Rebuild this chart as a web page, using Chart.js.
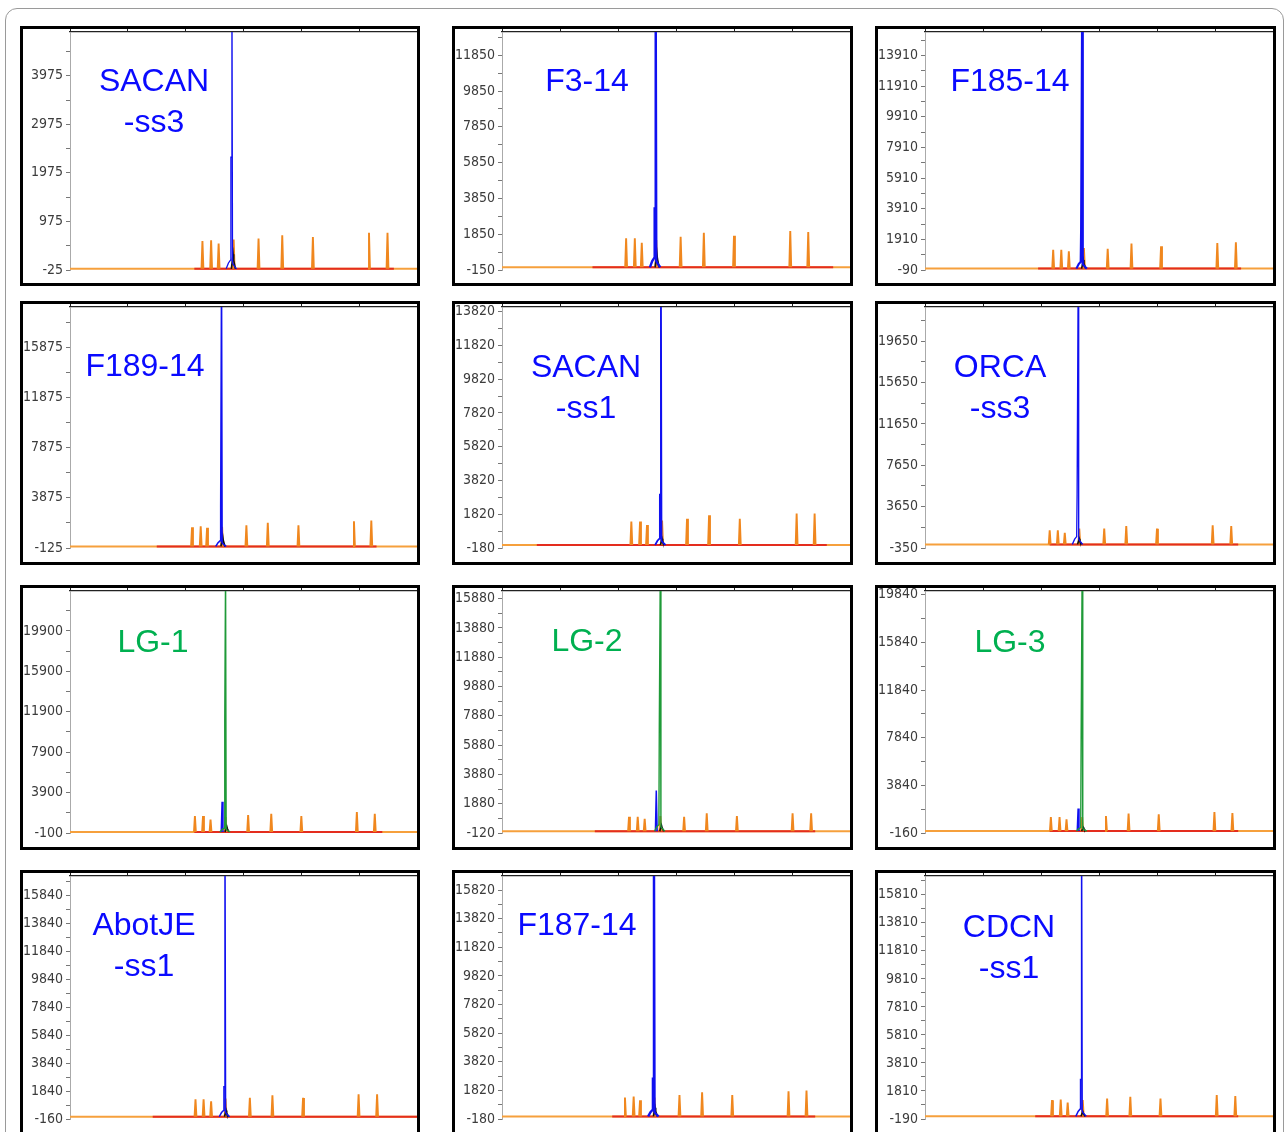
<!DOCTYPE html>
<html>
<head>
<meta charset="utf-8">
<script src="https://cdn.jsdelivr.net/npm/chart.js@4.4.1/dist/chart.umd.min.js"></script>
<style>
  body { margin: 0; background: #fff; width: 1288px; height: 1132px; overflow: hidden; position: relative; font-family: "Liberation Sans", Arial, sans-serif; }
  #frame { position: absolute; left: 5px; top: 8px; width: 1277px; height: 1140px; border: 1px solid #9a9a9a; border-radius: 12px; }
  .panel { position: absolute; box-sizing: border-box; border: 3px solid #000; background: #fff; }
  .panel canvas { display: block; }
  .label { position: absolute; font-size: 32px; line-height: 41px; text-align: center; transform: translateX(-50%); white-space: nowrap; }
</style>
</head>
<body>
<div id="frame"></div>
<script>
// sample names, read left-to-right, top-to-bottom
const names = ["SACAN<br>-ss3", "F3-14", "F185-14", "F189-14", "SACAN<br>-ss1", "ORCA<br>-ss3",
               "LG-1", "LG-2", "LG-3", "AbotJE<br>-ss1", "F187-14", "CDCN<br>-ss1"];
const isLG = [false, false, false, false, false, false, true, true, true, false, false, false];

// y axis (RFU): bottom label, labelled step, top of plot
const yMin  = [-25, -150, -90, -125, -180, -350, -100, -120, -160, -160, -180, -190];
const yStep = [1000, 2000, 2000, 4000, 2000, 4000, 4000, 2000, 4000, 2000, 2000, 2000];
const yMax  = [4875, 13150, 15450, 19100, 14100, 22950, 23850, 16400, 20150, 17200, 16800, 17150];

// size standard peaks (orange): position (scan units 0-600) and height
const ladderPos = [
  [229, 244, 257, 283, 326, 367, 420, 517, 549],
  [214, 229, 241, 266, 308, 348, 400, 497, 528],
  [221, 235, 248, 274, 315, 356, 407, 504, 536],
  [211, 226, 237, 263, 305, 342, 395, 491, 521],
  [223, 238, 250, 276, 319, 357, 410, 508, 539],
  [215, 229, 241, 266, 309, 347, 400, 496, 528],
  [216, 230, 243, 269, 308, 348, 400, 496, 527],
  [219, 234, 246, 273, 314, 353, 405, 501, 533],
  [217, 232, 244, 271, 312, 351, 403, 499, 530],
  [217, 231, 244, 269, 311, 350, 403, 499, 531],
  [212, 227, 238, 263, 306, 345, 397, 494, 525],
  [219, 234, 246, 272, 314, 354, 406, 503, 535]
];
const ladderHeight = [
  [573, 587, 519, 600, 621, 689, 655, 743, 743],
  [1617, 1617, 1375, 1524, 1710, 1933, 1766, 2026, 1970],
  [1233, 1233, 1123, 1343, 1299, 1630, 1454, 1674, 1718],
  [1534, 1614, 1481, 1561, 1695, 1882, 1695, 2016, 2069],
  [1389, 1389, 1185, 1450, 1552, 1756, 1552, 1858, 1858],
  [1356, 1356, 1126, 1520, 1520, 1782, 1520, 1848, 1782],
  [1575, 1575, 1240, 1474, 1675, 1809, 1575, 1977, 1809],
  [993, 993, 854, 1040, 993, 1225, 1040, 1225, 1225],
  [1180, 1180, 980, 1180, 1265, 1465, 1408, 1607, 1522],
  [1249, 1249, 1104, 1298, 1347, 1541, 1347, 1614, 1614],
  [1324, 1396, 1133, 1324, 1492, 1683, 1492, 1754, 1802],
  [1154, 1202, 983, 1154, 1276, 1398, 1276, 1520, 1447]
];

// main allele peak (blue, or green for LG): position, top (off scale), shoulder, foot
const mainPos      = [280, 265, 271, 262, 274, 264, 269, 273, 271, 268, 262, 270];
const mainTop      = [6000, 15000, 17500, 21000, 16000, 25000, 26000, 18500, 22500, 19500, 19000, 19500];
const mainShoulder = [2300, 3290, 2556, 3140, 2979, 4734, 11000, 7000, 7800, 2148, 2638, 2620];
const mainFoot     = [120, 350, 300, 300, 250, 500, 250, 300, 200, 300, 300, 350];

// blue side peak in the LG samples
const sidePos    = [null, null, null, null, null, null, 263, 266, 264, null, null, null];
const sideHeight = [null, null, null, null, null, null, 2982, 2779, 1892, null, null, null];

// small black peak next to the main one
const blackHeight = [300, 800, 570, 812, 370, 536, 570, 400, 300, 450, 608, 347];

// red trace lying on the baseline: start / end
const redStart = [215, 156, 195, 150, 60, 215, 215, 160, 215, 143, 190, 190];
const redEnd   = [560, 571, 545, 530, 560, 540, 540, 540, 540, 600, 540, 540];

// ---- layout ----
const colLeft = [20, 452, 875];
const colWidth = [400, 401, 401];
const rowTop = [26, 301, 585, 870];
const rowHeight = [260, 264, 265, 270];
const rowBase = [244, 247, 248, 249];
const labelPos = [[134, 54], [135, 54], [135, 54], [125, 64], [134, 65], [125, 65],
                  [133, 56], [135, 55], [135, 56], [124, 54], [125, 54], [134, 56]];
const mainWidth = [1.3, 2.4, 2.2, 1.6, 1.8, 1.3, 1.3, 1.3, 1.3, 1.5, 2.4, 1.5];

const BLUE = "#1010f0";
const GREEN = "#1f9a38";

function spikes(pos, hts) {
  const pts = [];
  pos.forEach((p, i) => {
    pts.push({ x: p - 1.6, y: 0 }, { x: p, y: hts[i] }, { x: p + 1.6, y: 0 }, { x: p + 1.7, y: null });
  });
  return pts;
}

function yTicks(i) {
  const t = [];
  for (let v = yMin[i]; v <= yMax[i]; v += yStep[i] / 2) t.push({ value: v });
  return t;
}

for (let i = 0; i < 12; i++) {
  const r = Math.floor(i / 3), c = i % 3;
  const box = document.createElement("div");
  box.className = "panel";
  box.style.left = colLeft[c] + "px";
  box.style.top = rowTop[r] + "px";
  box.style.width = colWidth[c] + "px";
  box.style.height = rowHeight[r] + "px";
  const cv = document.createElement("canvas");
  const w = colWidth[c] - 6, h = rowHeight[r] - 6;
  cv.width = w; cv.height = h;
  cv.style.width = w + "px"; cv.style.height = h + "px";
  box.appendChild(cv);
  const lab = document.createElement("div");
  lab.className = "label";
  lab.innerHTML = names[i];
  lab.style.color = isLG[i] ? "#00b050" : "#0a0aff";
  lab.style.left = (labelPos[i][0] - 3) + "px";
  lab.style.top = (labelPos[i][1] - 3 - 20) + "px";
  box.appendChild(lab);
  document.body.appendChild(box);

  const p = mainPos[i], f = mainFoot[i], s = mainShoulder[i];
  const mainPts = [
    { x: p - 10, y: 0 }, { x: p - 6, y: f }, { x: p - 2.5, y: f * 1.5 }, { x: p - 1.8, y: s },
    { x: p - 1, y: s }, { x: p, y: mainTop[i] }, { x: p + 1, y: f }, { x: p + 4, y: f * 0.5 }, { x: p + 8, y: 0 }
  ];
  const blackPts = [
    { x: p - 1, y: 0 }, { x: p + 2, y: blackHeight[i] }, { x: p + 3, y: blackHeight[i] * 0.6 }, { x: p + 6, y: 0 }
  ];
  const datasets = [
    { data: mainPts, borderColor: isLG[i] ? GREEN : BLUE, borderWidth: isLG[i] ? 1.4 : mainWidth[i] }
  ];
  if (sidePos[i] !== null) {
    datasets.push({ data: [{ x: sidePos[i] - 1.5, y: 0 }, { x: sidePos[i], y: sideHeight[i] }, { x: sidePos[i] + 1.5, y: 0 }],
                    borderColor: BLUE, borderWidth: 1.5 });
  }
  datasets.push(
    { data: blackPts, borderColor: "#111", borderWidth: 1.6 },
    { data: spikes(ladderPos[i], ladderHeight[i]), borderColor: "rgb(240,135,30)", borderWidth: 1.9 },
    { data: [{ x: redStart[i], y: 0 }, { x: redEnd[i], y: 0 }], borderColor: "rgb(228,45,30)", borderWidth: 2 },
    { data: [{ x: 0, y: 0 }, { x: 600, y: 0 }], borderColor: "rgb(246,160,60)", borderWidth: 2 }
  );
  datasets.forEach(d => { d.pointRadius = 0; d.tension = 0; d.fill = false; });

  new Chart(cv, {
    type: "line",
    data: { datasets: datasets },
    options: {
      responsive: false,
      animation: false,
      events: [],
      layout: { padding: { left: 0, right: 0, top: 0, bottom: h - (rowBase[r] - 3) } },
      plugins: { legend: { display: false }, tooltip: { enabled: false } },
      scales: {
        x: {
          type: "linear", position: "top", min: 0, max: 600,
          ticks: { display: false, stepSize: 100 },
          grid: { drawOnChartArea: false, drawTicks: true, tickLength: 3, color: "#222" },
          border: { color: "#222", width: 1.3 }
        },
        y: {
          min: yMin[i], max: yMax[i],
          afterBuildTicks: (scale) => { scale.ticks = yTicks(i); },
          afterFit: (scale) => { scale.width = 47; scale.paddingTop = 0; scale.paddingBottom = 0; },
          ticks: {
            autoSkip: false, padding: 3, color: "#3c3c3c",
            font: { family: "'DejaVu Sans Condensed', 'Liberation Sans', sans-serif", size: 14 },
            callback: (v, idx) => (idx % 2 === 0 ? String(v) : "")
          },
          grid: { drawOnChartArea: false, drawTicks: true, tickLength: 4, color: "#777" },
          border: { color: "#aaa", width: 1 }
        }
      }
    }
  });
}
</script>
</body>
</html>
